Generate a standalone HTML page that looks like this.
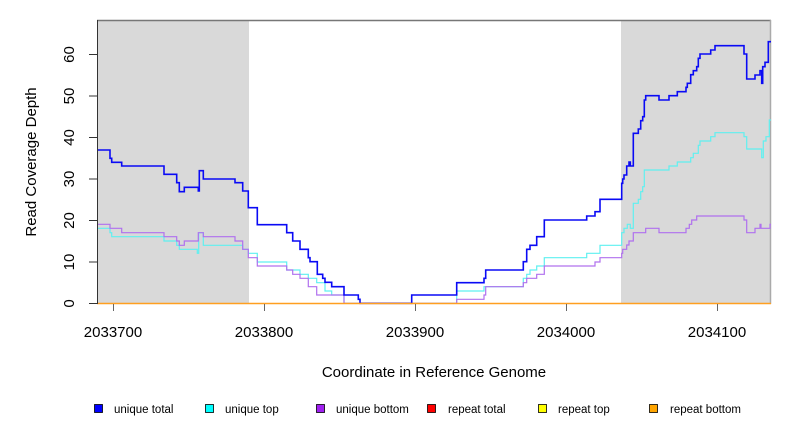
<!DOCTYPE html>
<html><head><meta charset="utf-8"><style>
body{margin:0;background:#fff;width:792px;height:432px;overflow:hidden}
svg text{font-family:"Liberation Sans",sans-serif}
</style></head><body>
<svg id="s" width="792" height="432" viewBox="0 0 792 432">
<rect x="97" y="20" width="152" height="284" fill="#d9d9d9"/>
<rect x="621" y="20" width="150" height="284" fill="#d9d9d9"/>
<line x1="97" y1="20.5" x2="771" y2="20.5" stroke="#777" stroke-width="1.5"/>
<line x1="770.5" y1="20" x2="770.5" y2="304" stroke="#aaa" stroke-width="1.5"/>
<g id="lines"></g>
<line x1="97" y1="303.5" x2="771" y2="303.5" stroke="#ff9f20" stroke-width="1.5"/>
<line x1="97.5" y1="20" x2="97.5" y2="304" stroke="#333" stroke-width="1"/>
<g stroke="#333" stroke-width="1">
<line x1="89" y1="303.5" x2="97" y2="303.5"/><line x1="89" y1="262" x2="97" y2="262"/>
<line x1="89" y1="220.5" x2="97" y2="220.5"/><line x1="89" y1="179" x2="97" y2="179"/>
<line x1="89" y1="137.5" x2="97" y2="137.5"/><line x1="89" y1="96" x2="97" y2="96"/>
<line x1="89" y1="54.5" x2="97" y2="54.5"/>
</g>
<g stroke="#666" stroke-width="1">
<line x1="113.5" y1="304" x2="113.5" y2="311"/><line x1="264.5" y1="304" x2="264.5" y2="311"/>
<line x1="415.5" y1="304" x2="415.5" y2="311"/><line x1="566.5" y1="304" x2="566.5" y2="311"/>
<line x1="717.5" y1="304" x2="717.5" y2="311"/>
</g>
<g font-size="15" fill="#000" text-anchor="middle">
<text transform="translate(74,303.5) rotate(-90)">0</text>
<text transform="translate(74,262) rotate(-90)">10</text>
<text transform="translate(74,220.5) rotate(-90)">20</text>
<text transform="translate(74,179) rotate(-90)">30</text>
<text transform="translate(74,137.5) rotate(-90)">40</text>
<text transform="translate(74,96) rotate(-90)">50</text>
<text transform="translate(74,54.5) rotate(-90)">60</text>
<text x="113" y="337">2033700</text><text x="264" y="337">2033800</text>
<text x="415" y="337">2033900</text><text x="566" y="337">2034000</text>
<text x="717" y="337">2034100</text>
<text x="434" y="377">Coordinate in Reference Genome</text>
<text transform="translate(36,162) rotate(-90)">Read Coverage Depth</text>
</g>
<g font-size="11.5" fill="#000" stroke="#000" stroke-width="0.8">
<rect x="94.5" y="404.5" width="8" height="8" fill="#0000ff"/>
<rect x="205.5" y="404.5" width="8" height="8" fill="#00ffff"/>
<rect x="316.5" y="404.5" width="8" height="8" fill="#a020f0"/>
<rect x="427.5" y="404.5" width="8" height="8" fill="#ff0000"/>
<rect x="538.5" y="404.5" width="8" height="8" fill="#ffff00"/>
<rect x="649.5" y="404.5" width="8" height="8" fill="#ffa500"/>
</g>
<g font-size="11.5" fill="#000">
<text x="114" y="413">unique total</text><text x="225" y="413">unique top</text>
<text x="336" y="413">unique bottom</text><text x="448" y="413">repeat total</text>
<text x="558" y="413">repeat top</text><text x="670" y="413">repeat bottom</text>
</g>
</svg>
<script>
function conv(arr,ox,oy){var o=[];for(var i=0;i<arr.length;i+=2)o.push((ox+arr[i]/3).toFixed(1)+","+(oy+arr[i+1]/3).toFixed(1));return o;}
var b1=[22,60,60,60,60,85,65,85,65,97,95,97,95,108,222,108,222,133,260,133,260,158,268,158,268,185,283,185,283,172,325,172,325,183,328,183,328,122,340,122,340,147,435,147,435,158,458,158,458,183,475,183,475,233,502,233,502,284,590,284,590,308,608,308,608,333,630,333,630,358,655,358,655,383,660,383,660,395,682,395,682,433,698,433,698,445,705,445,705,457,725,457,725,470,762,470,762,495,805,495,805,508,810,508,810,520,840,520];
var b2=[0,520,155,520,155,495,290,495,290,458,372,458,372,445,377,445,377,420,490,420,490,395,500,395,500,358,510,358,510,346,530,346,530,320,553,320,553,270,680,270,680,258,705,258,705,245,720,245,720,208,785,208];
var b3=[65,508,65,460,68,460,68,447,72,447,72,435,80,435,80,408,87,408,87,396,91,396,91,408,100,408,100,310,115,310,115,297,122,297,122,272,128,272,128,260,133,260,133,210,137,210,137,197,177,197,177,210,207,210,207,197,232,197,232,185,258,185,258,172,262,172,262,160,272,160,272,134,280,134,280,122,290,122,290,110,295,110,295,85,300,85,300,72,332,72,332,60,345,60,345,47,432,47,432,72,440,72,440,147,465,147,465,135,480,135,480,122,485,122,485,160,488,160,488,110,495,110,495,97,505,97,505,35,513,35];
var c1=[22,295,60,295,60,308,65,308,65,320,222,320,222,333,260,333,260,346,268,346,268,358,322,358,322,370,326,370,326,308,340,308,340,346,458,346,458,358,475,358,475,370,502,370,502,396,590,396,590,420,630,420,630,433,655,433,655,445,680,445,680,458,705,458,705,483,725,483,725,495,762,495,762,520,840,520];
var c2=[0,520,290,520,290,483,372,483,372,470,490,470,490,445,500,445,500,433,510,433,510,420,530,420,530,408,553,408,553,383,680,383,680,370,720,370,720,346,785,346];
var c3=[65,645,65,608,72,608,72,595,82,595,82,583,91,583,91,595,100,595,100,520,115,520,115,508,122,508,122,485,128,485,128,470,133,470,133,420,207,420,207,408,232,408,232,396,272,396,272,383,280,383,280,370,295,370,295,346,300,346,300,333,332,333,332,320,345,320,345,308,432,308,432,320,440,320,440,357,485,357,485,383,490,383,490,333,498,333,498,320,508,320,508,270,513,270];
var p1=[22,283,60,283,60,295,95,295,95,308,222,308,222,320,260,320,260,333,268,333,268,346,283,346,283,333,325,333,325,308,340,308,340,320,435,320,435,333,458,333,458,358,475,358,475,383,502,383,502,408,590,408,590,420,608,420,608,433,630,433,630,445,655,445,655,470,680,470,680,495,762,495,762,520,840,520];
var p2=[0,520,290,520,290,508,372,508,372,495,377,495,377,470,490,470,490,458,500,458,500,445,530,445,530,433,553,433,553,408,705,408,705,396,720,396,720,383,785,383];
var p3=[65,683,65,670,68,670,68,658,80,658,80,645,87,645,87,633,100,633,100,608,137,608,137,595,177,595,177,608,258,608,258,595,268,595,268,583,275,583,275,570,290,570,290,558,432,558,432,570,440,570,440,608,465,608,465,595,480,595,480,583,483,583,483,595,510,595,510,583,513,583];
function line(a,b,c,col,w){return '<polyline fill="none" stroke="'+col+'" stroke-width="'+w+'" points="'+conv(a,90,130).concat(conv(b,360,130),conv(c,600,30)).join(" ")+'"/>';}
document.getElementById("lines").innerHTML=line(c1,c2,c3,"#5ff0f0",1.2)+line(p1,p2,p3,"#b070ee",1.2)+line(b1,b2,b3,"#0a0af5",1.6);
</script>
</body></html>
